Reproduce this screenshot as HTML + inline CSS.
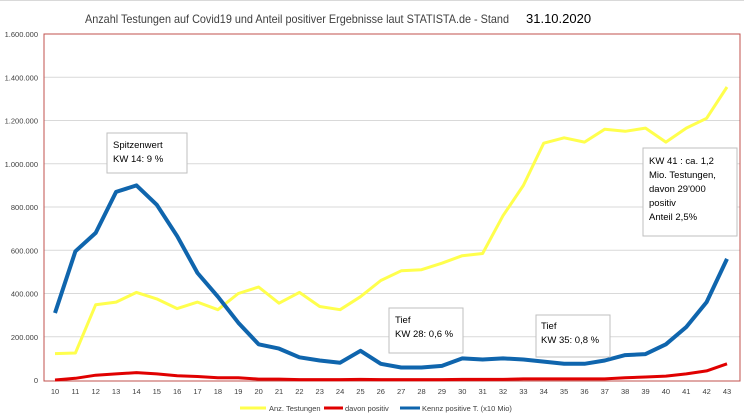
<!DOCTYPE html>
<html><head><meta charset="utf-8"><style>
body{margin:0;background:#fff;}
svg{display:block;font-family:"Liberation Sans",sans-serif;}
</style></head><body>
<svg id="s" width="744" height="420" xmlns="http://www.w3.org/2000/svg">
<rect x="0" y="0" width="744" height="420" fill="#fff"/>
<line x1="0" y1="0.5" x2="744" y2="0.5" stroke="#d9d9d9"/>
<text x="85" y="23" font-size="12" fill="#404040" textLength="424" lengthAdjust="spacingAndGlyphs">Anzahl Testungen auf Covid19 und Anteil positiver Ergebnisse laut STATISTA.de - Stand</text>
<text x="526" y="23" font-size="13" fill="#000">31.10.2020</text>
<g id="grid"></g>
<rect x="44" y="34" width="696" height="347" fill="none" stroke="#c0504d" stroke-width="1"/>
<g id="lines"></g>
<g font-size="9.5" fill="#000">
<rect x="107" y="133" width="80" height="40" fill="#fff" stroke="#bfbfbf"/>
<text x="113" y="148">Spitzenwert</text><text x="113" y="162">KW 14:  9 %</text>
<rect x="643" y="148" width="94" height="88" fill="#fff" stroke="#bfbfbf"/>
<text x="649" y="164">KW 41  : ca. 1,2</text><text x="649" y="178">Mio. Testungen,</text>
<text x="649" y="192">davon 29'000</text><text x="649" y="206">positiv</text><text x="649" y="220">Anteil 2,5%</text>
<rect x="389" y="308" width="74" height="45" fill="#fff" stroke="#bfbfbf"/>
<text x="395" y="323">Tief</text><text x="395" y="337">KW 28: 0,6 %</text>
<rect x="536" y="315" width="74" height="42" fill="#fff" stroke="#bfbfbf"/>
<text x="541" y="329">Tief</text><text x="541" y="343">KW 35: 0,8 %</text>
</g>
<g font-size="7.5" fill="#404040">
<line x1="240" y1="408" x2="266" y2="408" stroke="#ffff4d" stroke-width="3"/><text x="269" y="411">Anz. Testungen</text>
<line x1="324" y1="408" x2="343" y2="408" stroke="#e00000" stroke-width="3"/><text x="345" y="411">davon positiv</text>
<line x1="400" y1="408" x2="420" y2="408" stroke="#0f65ad" stroke-width="3"/><text x="422" y="411">Kennz positive T. (x10 Mio)</text>
</g>
</svg>
<script>
const X0=55,DX=(727-55)/33,Y0=380,SY=346/1600000;
const ns="http://www.w3.org/2000/svg";
const g=document.getElementById('grid'),L=document.getElementById('lines');
function el(t,a,p,txt){const e=document.createElementNS(ns,t);for(const k in a)e.setAttribute(k,a[k]);if(txt!==undefined)e.textContent=txt;p.appendChild(e);return e;}
const lab=["0","200.000","400.000","600.000","800.000","1.000.000","1.200.000","1.400.000","1.600.000"];
for(let i=0;i<=8;i++){const y=Y0-i*200000*SY;
 if(i>0&&i<8)el('line',{x1:44,x2:740,y1:y,y2:y,stroke:'#d9d9d9'},g);
 el('text',{x:38,y:y+3,'font-size':7.5,fill:'#404040','text-anchor':'end'},g,lab[i]);}
for(let w=10;w<=43;w++)el('text',{x:X0+(w-10)*DX,y:394,'font-size':7.5,fill:'#404040','text-anchor':'middle'},g,w);
const yel=[122,125,348,360,405,375,330,360,325,400,430,355,405,340,325,385,460,505,510,540,575,585,760,900,1095,1120,1100,1160,1150,1165,1100,1165,1210,1355];
const blu=[310,595,680,870,900,810,665,495,385,265,165,145,105,90,80,135,75,58,58,65,100,95,100,95,85,75,75,90,115,120,165,245,360,560];
const red=[0,8,22,28,34,28,20,16,10,10,4,4,2,2,2,3,2,2,2,2,3,3,3,5,5,5,5,5,10,14,18,28,42,75];
function pl(d,c,w){el('polyline',{points:d.map((v,i)=>(X0+i*DX).toFixed(1)+','+(Y0-v*1000*SY).toFixed(1)).join(' '),fill:'none',stroke:c,'stroke-width':w,'stroke-linejoin':'round'},L);}
pl(yel,'#ffff4d',3);pl(red,'#e00000',3);pl(blu,'#0f65ad',4);
</script>
</body></html>
